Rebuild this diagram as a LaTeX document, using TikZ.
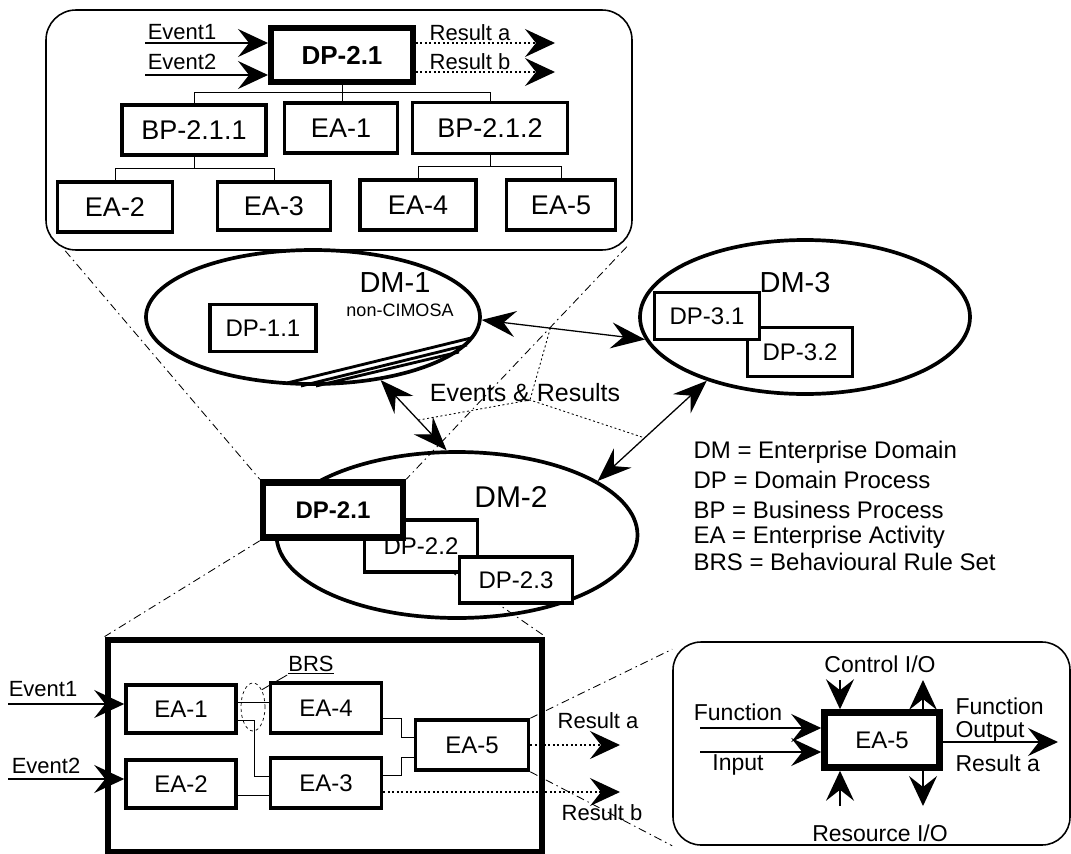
\documentclass[tikz,border=0pt]{standalone}
\usepackage{fontspec}
\setmainfont{Liberation Sans}
\usetikzlibrary{arrows.meta,shapes.geometric}
\def\fs#1{\fontsize{#1}{#1}\selectfont}
\pgfdeclarelayer{back}
\pgfsetlayers{back,main}
\tikzset{
	actbox/.style={draw, fill=white, line width=1.25mm, inner sep=0pt, font=\fs{24}},
	mainbox/.style={draw, fill=white, line width=2.3mm, inner sep=0pt, font=\bfseries\fs{24}},
	dmellipse/.style={draw, ellipse, line width=1.3mm, inner sep=0pt},
	roundbox/.style={draw, rounded corners=28pt, line width=0.55mm, inner sep=0pt},
	zoomline/.style={line width=0.3mm, dash pattern=on 8pt off 4pt on 1.5pt off 4pt},
	dotline/.style={dash pattern=on 2pt off 2.5pt},
	bigarrow/.style={line width=0.5mm, -{Stealth[length=30pt,width=28pt,inset=11pt]}},
	twoarrow/.style={line width=0.45mm, {Stealth[length=34pt,width=26pt,inset=12pt]}-{Stealth[length=34pt,width=26pt,inset=12pt]}},
}

\begin{document}
\begin{tikzpicture}[x=1pt, y=-1pt]
		%%%%% START %%%%%
		\useasboundingbox (0,0) rectangle (1071,854);
		
		% DP-2.1 broken down
		\node[roundbox, rounded corners=30pt, minimum width=586pt, minimum height=240pt] (zoomtop) at (339,130) {};
		\node[mainbox, line width=2.1mm, font=\bfseries\fs{26}, minimum width=142pt, minimum height=54pt] (tdp) at (342,55) {DP-2.1};
		\node[font=\fs{22}] (tev1) at (182,32) {Event1};
		\node[font=\fs{22}] (tev2) at (182,62) {Event2};
		\node[font=\fs{22}] (tres1) at (470,33) {Result a};
		\node[font=\fs{22}] (tres2) at (470,62) {Result b};
		\coordinate (tin1) at (145,43);
		\coordinate (tin2) at (145,75);
		\coordinate (tout1) at (555,43);
		\coordinate (tout2) at (555,72);
		\draw[bigarrow] (tin1) -- (tin1 -| tdp.west);
		\draw[bigarrow] (tin2) -- (tin2 -| tdp.west);
		\draw[bigarrow, dotline] (tdp.east |- tout1) -- (tout1);
		\draw[bigarrow, dotline] (tdp.east |- tout2) -- (tout2);
		
		\node[actbox, font=\fs{27}, minimum width=144pt, minimum height=50pt] (tbp1) at (194,130) {BP-2.1.1};
		\node[actbox, font=\fs{27}, minimum width=113pt, minimum height=50pt] (tea1) at (341,128) {EA-1};
		\node[actbox, font=\fs{27}, minimum width=155pt, minimum height=51pt] (tbp2) at (490,128) {BP-2.1.2};
		\node[actbox, font=\fs{27}, minimum width=115pt, minimum height=50pt] (tea2) at (115,207) {EA-2};
		\node[actbox, font=\fs{27}, minimum width=113pt, minimum height=48pt] (tea3) at (274,206) {EA-3};
		\node[actbox, font=\fs{27}, minimum width=116pt, minimum height=50pt] (tea4) at (418,205) {EA-4};
		\node[actbox, font=\fs{27}, minimum width=109pt, minimum height=50pt] (tea5) at (561,205) {EA-5};
		\draw[line width=0.35mm] (tbp1.north) -- ++(0,-11) coordinate (tj0) -| (tbp2.north);
		\draw[line width=0.35mm] (tdp.south) -- (tdp.south |- tea1.north);
		\draw[line width=0.35mm] (tea2.north) -- ++(0,-12) coordinate (tj1) -| (tea3.north);
		\draw[line width=0.35mm] (tbp1.south) -- (tbp1.south |- tj1);
		\draw[line width=0.35mm] (tea4.north) -- ++(0,-12) coordinate (tj2) -| (tea5.north);
		\draw[line width=0.35mm] (tbp2.south) -- (tbp2.south |- tj2);
		
		% domains
		\node[dmellipse, minimum width=334pt, minimum height=134pt] (dm1) at (313,317) {};
		\draw[line width=1mm] (287,383) -- (471,338);
		\draw[line width=1mm] (301,386) -- (467,345);
		\draw[line width=1mm] (316,386) -- (459,352);
		\node[font=\fs{29}] (dm1l) at (395,283) {DM-1};
		\node[font=\fs{18}] (dm1n) at (400,310) {non-CIMOSA};
		\node[actbox, minimum width=106pt, minimum height=47pt] (dp11) at (263,328) {DP-1.1};
		
		\node[dmellipse, minimum width=330pt, minimum height=154pt] (dm3) at (805,317) {};
		\node[font=\fs{29}] (dm3l) at (795,283) {DM-3};
		\node[actbox, minimum width=105pt, minimum height=49pt] (dp32) at (800,352) {DP-3.2};
		\node[actbox, minimum width=105pt, minimum height=47pt] (dp31) at (707,316) {DP-3.1};
		
		\node[dmellipse, minimum width=361pt, minimum height=166pt] (dm2) at (457,535) {};
		\node[font=\fs{30}] (dm2l) at (511,497) {DM-2};
		\node[actbox, minimum width=113pt, minimum height=52pt] (dp22) at (421,546) {DP-2.2};
		\node[actbox, minimum width=113pt, minimum height=46pt] (dp23) at (516,580) {DP-2.3};
		\node[mainbox, minimum width=140pt, minimum height=55pt] (dp21) at (333,510) {DP-2.1};
		
		\draw[twoarrow] (dm1.359) -- coordinate[pos=.42] (m13) (dm3.188);
		\draw[twoarrow] (dm1.317) -- coordinate[pos=.57] (m12) (dm2.97);
		\draw[twoarrow] (dm3.213) -- coordinate[pos=.57] (m32) (dm2.21);
		\node[font=\fs{25}] (evres) at (525,393) {Events \& Results};
		\coordinate (evj) at ([xshift=5pt,yshift=-7pt]evres.center);
		\draw[dotline, line width=0.3mm] (m13) -- (evj);
		\draw[dotline, line width=0.3mm] (m12) -- (evj) -- (m32);
		
		% legend
		\node[anchor=west, font=\fs{24}] (leg1) at (690,452) {DM = Enterprise Domain};
		\node[anchor=west, font=\fs{24}] (leg2) at (690,480) {DP = Domain Process};
		\node[anchor=west, font=\fs{24}] (leg3) at (690,510) {BP = Business Process};
		\node[anchor=west, font=\fs{24}] (leg4) at (690,537) {EA = Enterprise Activity};
		\node[anchor=west, font=\fs{24}] (leg5) at (690,562) {BRS = Behavioural Rule Set};
		
		% DP-2.1 inside
		\node[draw, line width=2.4mm, minimum width=434pt, minimum height=212pt] (bbox) at (325,746) {};
		\node[actbox, minimum width=110pt, minimum height=48pt] (bea1) at (181,709) {EA-1};
		\node[actbox, minimum width=111pt, minimum height=50pt] (bea4) at (326,708) {EA-4};
		\node[actbox, minimum width=110pt, minimum height=48pt] (bea2) at (181,784) {EA-2};
		\node[actbox, minimum width=111pt, minimum height=50pt] (bea3) at (326,783) {EA-3};
		\node[actbox, minimum width=113pt, minimum height=50pt] (bea5) at (472,745) {EA-5};
		\node[draw, ellipse, dashed, line width=0.25mm, minimum width=24pt, minimum height=48pt, inner sep=0pt] (brs) at (253,707) {};
		\node[font=\fs{22}, inner sep=1pt] (brsl) at (311,665) {\underline{BRS}};
		\draw[line width=0.3mm] (brsl.south west) -- (brs.north east);
		
		\draw[line width=0.35mm] ([yshift=7pt]bea1.east) -- ([yshift=7pt]bea1.east -| bea4.west);
		\draw[line width=0.35mm] ([yshift=-11pt]bea1.east) -- ++(17,0) |- ([yshift=7pt]bea3.west);
		\draw[line width=0.35mm] ([yshift=-11pt]bea2.east) -- ([yshift=-11pt]bea2.east -| bea3.west);
		\draw[line width=0.35mm] ([yshift=-10pt]bea4.east) -- ++(18,0) |- ([yshift=8pt]bea5.west);
		\draw[line width=0.35mm] ([yshift=8pt]bea3.east) -- ++(18,0) |- ([yshift=-12pt]bea5.west);
		
		\coordinate (bin1) at (8,704);
		\coordinate (bin2) at (8,779);
		\draw[bigarrow] (bin1) -- (bin1 -| bea1.west);
		\draw[bigarrow] (bin2) -- (bin2 -| bea2.west);
		\node[font=\fs{22}] (bev1) at (43,689) {Event1};
		\node[font=\fs{22}] (bev2) at (46,766) {Event2};
		\coordinate (bra) at (620,745);
		\coordinate (brb) at (620,792);
		\draw[bigarrow, dotline] (bea5.east) -- (bra);
		\draw[bigarrow, dotline] ([yshift=-9pt]bea3.east) -- (brb);
		\node[font=\fs{22}] (bres1) at (598,721) {Result a};
		\node[font=\fs{22}] (bres2) at (602,813) {Result b};
		
		% EA-5 inside
		\node[roundbox, minimum width=397pt, minimum height=203pt] (rbox) at (871.5,743.5) {};
		\node[mainbox, font=\fs{24}, minimum width=115pt, minimum height=55pt] (rea5) at (882,740) {EA-5};
		\coordinate (rfun) at (700,728);
		\coordinate (rinp) at (700,752);
		\draw[bigarrow] (rfun) -- (rfun -| rea5.west);
		\draw[bigarrow] (rinp) -- (rinp -| rea5.west);
		\node[font=\fs{23}] (rfunl) at (738,712) {Function};
		\node[font=\fs{23}] (rinpl) at (738,765) {Input};
		\coordinate (rc1) at (840,680);
		\coordinate (rc2) at (923,680);
		\coordinate (rr1) at (840,806);
		\coordinate (rr2) at (923,806);
		\draw[bigarrow] (rc1) -- (rc1 |- rea5.north);
		\draw[bigarrow] (rc2 |- rea5.north) -- (rc2);
		\draw[bigarrow] (rr1) -- (rr1 |- rea5.south);
		\draw[bigarrow] (rr2 |- rea5.south) -- (rr2);
		\node[font=\fs{23}] (rctl) at (880,664) {Control I/O};
		\node[font=\fs{23}] (rresl) at (880,833) {Resource I/O};
		\coordinate (rout) at (1058,742);
		\draw[bigarrow] (rea5.east |- rout) -- (rout);
		\node[font=\fs{23}, align=left, anchor=west] (routl) at (952,720) {Function\\Output};
		\node[font=\fs{23}, anchor=west] (rresa) at (952,763) {Result a};
		
		% zoom lines
		\begin{pgfonlayer}{back}
			\draw[zoomline] ([xshift=20pt]zoomtop.south west) -- (dp21.north west);
			\draw[zoomline] ([xshift=-6pt,yshift=4pt]zoomtop.south east) -- (dp21.north east);
			\draw[zoomline] (dp21.south west) -- (bbox.north west);
			\draw[zoomline] (dp21.south east) -- (bbox.north east);
			\draw[zoomline] (bea5.north east) -- ([yshift=-8pt]rbox.north west);
			\draw[zoomline] (bea5.south east) -- (rbox.south west);
		\end{pgfonlayer}
		
		%%%%% END %%%%%
\end{tikzpicture}
\end{document}
